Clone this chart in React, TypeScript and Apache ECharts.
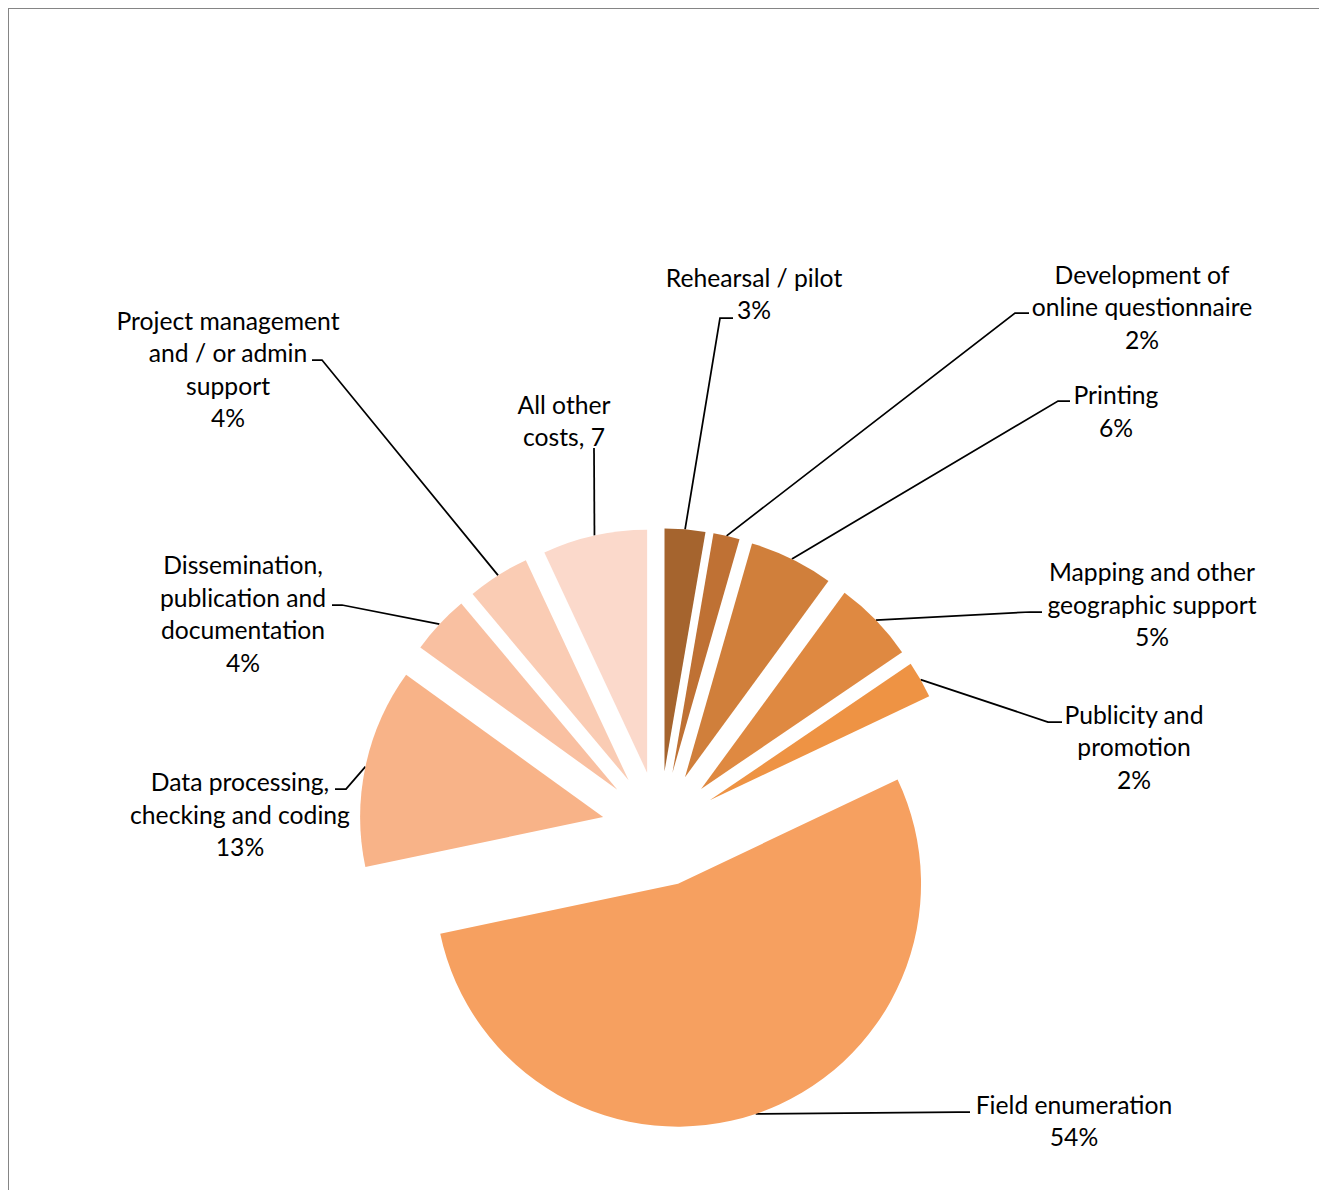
import React, { useEffect, useRef } from "react";
import * as echarts from "echarts";

// ---- data ----
const categories = [
  "Rehearsal / pilot",
  "Development of online questionnaire",
  "Printing",
  "Mapping and other geographic support",
  "Publicity and promotion",
  "Field enumeration",
  "Data processing, checking and coding",
  "Dissemination, publication and documentation",
  "Project management and / or admin support",
  "All other costs",
];
const values = [2.7, 1.75, 5.6, 5.45, 2.45, 53.75, 13.25, 3.95, 4.15, 6.95];
const labelNames = [
  "Rehearsal / pilot",
  "Development of\nonline questionnaire",
  "Printing",
  "Mapping and other\ngeographic support",
  "Publicity and\npromotion",
  "Field enumeration",
  "Data processing,\nchecking and coding",
  "Dissemination,\npublication and\ndocumentation",
  "Project management\nand / or admin\nsupport",
  "All other\ncosts",
];
// the last label shows ", value" without a percent sign (as in the original)
const labelStyles = ["pct", "pct", "pct", "pct", "pct", "pct", "pct", "pct", "pct", "comma"];

// ---- styles / layout ----
const colors = [
  "#A5642E",
  "#BF7134",
  "#D07F3B",
  "#DF8941",
  "#EE9344",
  "#F6A060",
  "#F8B388",
  "#F9C0A1",
  "#FACCB4",
  "#FBD9CB",
];
const ORIGIN = 8; // page offset of chart
const PIE_CENTER = [659.6 - ORIGIN, 829 - ORIGIN];
const PIE_RADIUS = 243;
const EXPLODE = 57.7;
// label block centres (page coords)
const labelCenters = [
  [754, 293.5],
  [1142, 306.7],
  [1116, 411],
  [1152, 604],
  [1134, 746.7],
  [1074, 1120.5],
  [240, 814.3],
  [243, 613.5],
  [228, 369],
  [564, 420.5],
];
// leader elbow: [x at bend, y, x at label end]
const labelElbows = [
  [720, 318, 733],
  [1015, 313, 1029],
  [1058, 401, 1070],
  [1030, 612, 1042],
  [1048, 722, 1062],
  [958, 1112, 970],
  [346, 789, 335],
  [342, 605, 332],
  [322, 360, 312],
  [594, 448, 594],
];

const FONT = "Lato, 'Noto Sans', sans-serif";

export default function App() {
  const ref = useRef<HTMLDivElement>(null);

  useEffect(() => {
    if (!ref.current) return;
    const chart = echarts.init(ref.current, undefined, { renderer: "svg" });
    const total = values.reduce((a, b) => a + b, 0);
    let cum = 0;
    const mids = values.map((v) => {
      const m = ((cum + v / 2) / total) * Math.PI * 2;
      cum += v;
      return m;
    });

    const series = values.map((_, i) => {
      const cx = PIE_CENTER[0] + EXPLODE * Math.sin(mids[i]);
      const cy = PIE_CENTER[1] - EXPLODE * Math.cos(mids[i]);
      return {
        type: "pie",
        radius: PIE_RADIUS,
        center: [cx, cy],
        startAngle: 90,
        clockwise: true,
        avoidLabelOverlap: false,
        silent: true,
        emphasis: { disabled: true },
        itemStyle: { borderWidth: 0 },
        label: {
          show: true,
          position: "outside",
          fontFamily: FONT,
          fontSize: 24.7,
          lineHeight: 32.5,
          color: "#000",
          align: "center",
          formatter: (p: any) => {
            const idx = p.dataIndex;
            const pct = Math.round((values[idx] / total) * 100);
            return labelStyles[idx] === "pct"
              ? `${labelNames[idx]}\n${pct}%`
              : `${labelNames[idx]}, ${pct}`;
          },
        },
        labelLine: {
          show: true,
          length: 10,
          length2: 10,
          lineStyle: { color: "#000", width: 1.75 },
        },
        labelLayout: (params: any) => {
          const idx = params.dataIndex;
          const [lx, ly] = labelCenters[idx];
          const [ex, ey, ix] = labelElbows[idx];
          let p0: number[];
          if (params.labelLinePoints && params.labelLinePoints[0]) {
            p0 = [params.labelLinePoints[0][0], params.labelLinePoints[0][1]];
          } else {
            p0 = [cx + PIE_RADIUS * Math.sin(mids[idx]), cy - PIE_RADIUS * Math.cos(mids[idx])];
          }
          return {
            x: lx - ORIGIN,
            y: ly - ORIGIN,
            align: "center",
            verticalAlign: "middle",
            labelLinePoints: [p0, [ex - ORIGIN, ey - ORIGIN], [ix - ORIGIN, ey - ORIGIN]],
          };
        },
        data: values.map((v, j) => ({
          name: categories[j],
          value: v,
          itemStyle: { color: j === i ? colors[j] : "rgba(0,0,0,0)", borderWidth: 0 },
          label: { show: j === i },
          labelLine: { show: j === i },
        })),
      };
    });

    chart.setOption({
      animation: false,
      backgroundColor: "#fff",
      tooltip: { show: false },
      series,
    } as any);

    return () => chart.dispose();
  }, []);

  return (
    <div style={{ position: "relative", width: 1313, height: 1190 }}>
      <div ref={ref} style={{ position: "absolute", left: 0, top: 0, width: 1313, height: 1190 }} />
      <div
        style={{
          position: "absolute",
          left: -1,
          top: -1,
          width: 1315,
          height: 1200,
          border: "2px solid #858585",
          boxSizing: "border-box",
          pointerEvents: "none",
        }}
      />
    </div>
  );
}
